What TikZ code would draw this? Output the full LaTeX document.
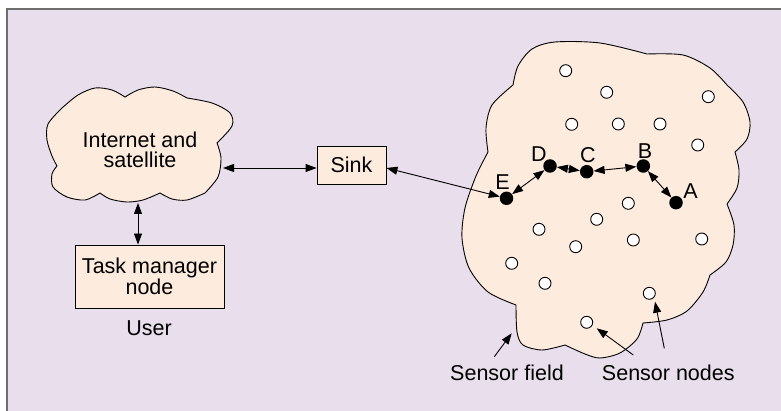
\documentclass[tikz,border=0pt]{standalone}
\usepackage{fontspec}
\setmainfont{Liberation Sans}
\usetikzlibrary{arrows.meta}
\definecolor{bg}{HTML}{E8DEEC}
\definecolor{peach}{HTML}{FDEBDD}
\definecolor{framegray}{HTML}{6E6E6E}
\begin{document}
\begin{tikzpicture}[x=1pt,y=-1pt,
  txt/.style={font=\fontsize{21.5}{20.5}\selectfont, inner sep=0pt, text=black},
  box/.style={draw, fill=peach, line width=0.9pt, inner sep=0pt, txt},
  tip/.tip={Triangle[length=11pt,width=8pt]},
  conn/.style={line width=0.9pt, tip-tip},
  one/.style={line width=0.9pt, -tip},
  sensor/.style={circle, draw, fill=white, minimum size=12pt, inner sep=0pt, line width=0.9pt},
  active/.style={circle, fill=black, minimum size=13.5pt, inner sep=0pt},
  cloudline/.style={draw=black, fill=peach, line width=0.9pt}]
\useasboundingbox (0,0) rectangle (781,411);
% frame
\fill[bg] (7,9) rectangle (781,411);
\draw[framegray, line width=1.5pt] (7,411) -- (7,9) -- (781,9);

% Internet cloud
\path[cloudline]
  plot[smooth] coordinates {(62,108) (78,95) (95,88) (112,90) (125,97)}
  -- plot[smooth] coordinates {(125,97) (138,90) (155,87) (173,91) (187,98)}
  -- plot[smooth] coordinates {(187,98) (212,103) (230,113) (232,126) (217,143)}
  -- plot[smooth] coordinates {(217,143) (221,158) (218,177) (205,193)}
  -- plot[smooth] coordinates {(205,193) (187,200) (172,199) (160,193)}
  -- plot[smooth] coordinates {(160,193) (143,200) (127,202) (110,199) (100,193)}
  -- plot[smooth] coordinates {(100,193) (85,200) (67,197) (53,187) (52,174) (57,166)}
  -- plot[smooth] coordinates {(57,166) (52,156) (47,140) (48,124) (62,108)}
  -- cycle;
\node[txt, align=center] (inet) at (140,150) {Internet and\\satellite};
\coordinate (inetR) at (223,168);
\coordinate (inetB) at (138,203);

% Sink and task manager
\node[box, minimum width=69pt, minimum height=38pt] (sink) at (351.5,165) {Sink};
\node[box, minimum width=149pt, minimum height=63pt, align=center] (task) at (149.5,276.5) {Task manager\\node};
\node[txt] (user) at (149,328) {User};

\draw[conn] (inetR) -- (inetR -| sink.west);
\draw[conn] (inetB) -- (inetB |- task.north);

% Sensor field
\path[cloudline]
  plot[smooth] coordinates {(488,152) (486,128) (492,105) (513,85)}
  -- plot[smooth] coordinates {(513,85) (518,66) (532,49) (555,42) (600,43) (647,54)}
  -- plot[smooth] coordinates {(647,54) (683,55) (710,68) (727,85)}
  -- plot[smooth] coordinates {(727,85) (743,102) (750,122) (747,139) (735,152)}
  -- plot[smooth] coordinates {(735,152) (739,170) (737,188) (727,204)}
  -- plot[smooth] coordinates {(727,204) (734,225) (733,245) (726,262) (710,275)}
  -- plot[smooth] coordinates {(710,275) (703,292) (687,311) (667,320) (643,323)}
  -- plot[smooth] coordinates {(643,323) (637,339) (620,353) (600,358) (585,354) (565,345)}
  -- plot[smooth] coordinates {(565,345) (542,350) (523,345) (517,332) (516,305)}
  -- plot[smooth] coordinates {(516,305) (488,292) (469,268) (462,238) (465,208) (476,176) (488,152)}
  -- cycle;

% sensor nodes
\foreach \x/\y [count=\i] in {565.7/70.7, 606.7/92.3, 708.3/96.7, 571.7/124.3, 618.3/124, 660/124,
  697.7/145, 628.3/203.3, 596.7/219.3, 539/229.3, 633.3/240, 701.7/239, 575.7/246.7,
  511.7/263.3, 545/283.3, 649.3/293.3, 586.7/322.3}
  \node[sensor] (s\i) at (\x,\y) {};

% active path
\node[active] (E) at (506.5,198.3) {};
\node[active] (D) at (550,166) {};
\node[active] (C) at (586.7,171.7) {};
\node[active] (B) at (643.3,166) {};
\node[active] (A) at (676,202.7) {};
\node[txt] (lE) at (502.5,182.5) {E};
\node[txt] (lD) at (539,153.7) {D};
\node[txt] (lC) at (588,155) {C};
\node[txt] (lB) at (645,151) {B};
\node[txt] (lA) at (690.5,191.5) {A};

\draw[conn] (sink.east |- inetR) -- (E);
\draw[conn] (E) -- (D);
\draw[conn] (D) -- (C);
\draw[conn] (C) -- (B);
\draw[conn] (B) -- (A);

% annotations
\node[txt] (field) at (507,372.5) {Sensor field};
\node[txt] (nodes) at (668.3,373) {Sensor nodes};
\coordinate (f0) at (494.3,356.7);
\coordinate (f1) at (511.7,333.3);
\coordinate (n0) at (633.3,355);
\coordinate (n1) at (596.7,328.3);
\coordinate (m0) at (664.3,348.3);
\coordinate (m1) at (655,301.7);
\draw[one] (f0) -- (f1);
\draw[one] (n0) -- (n1);
\draw[one] (m0) -- (m1);
\end{tikzpicture}
\end{document}
